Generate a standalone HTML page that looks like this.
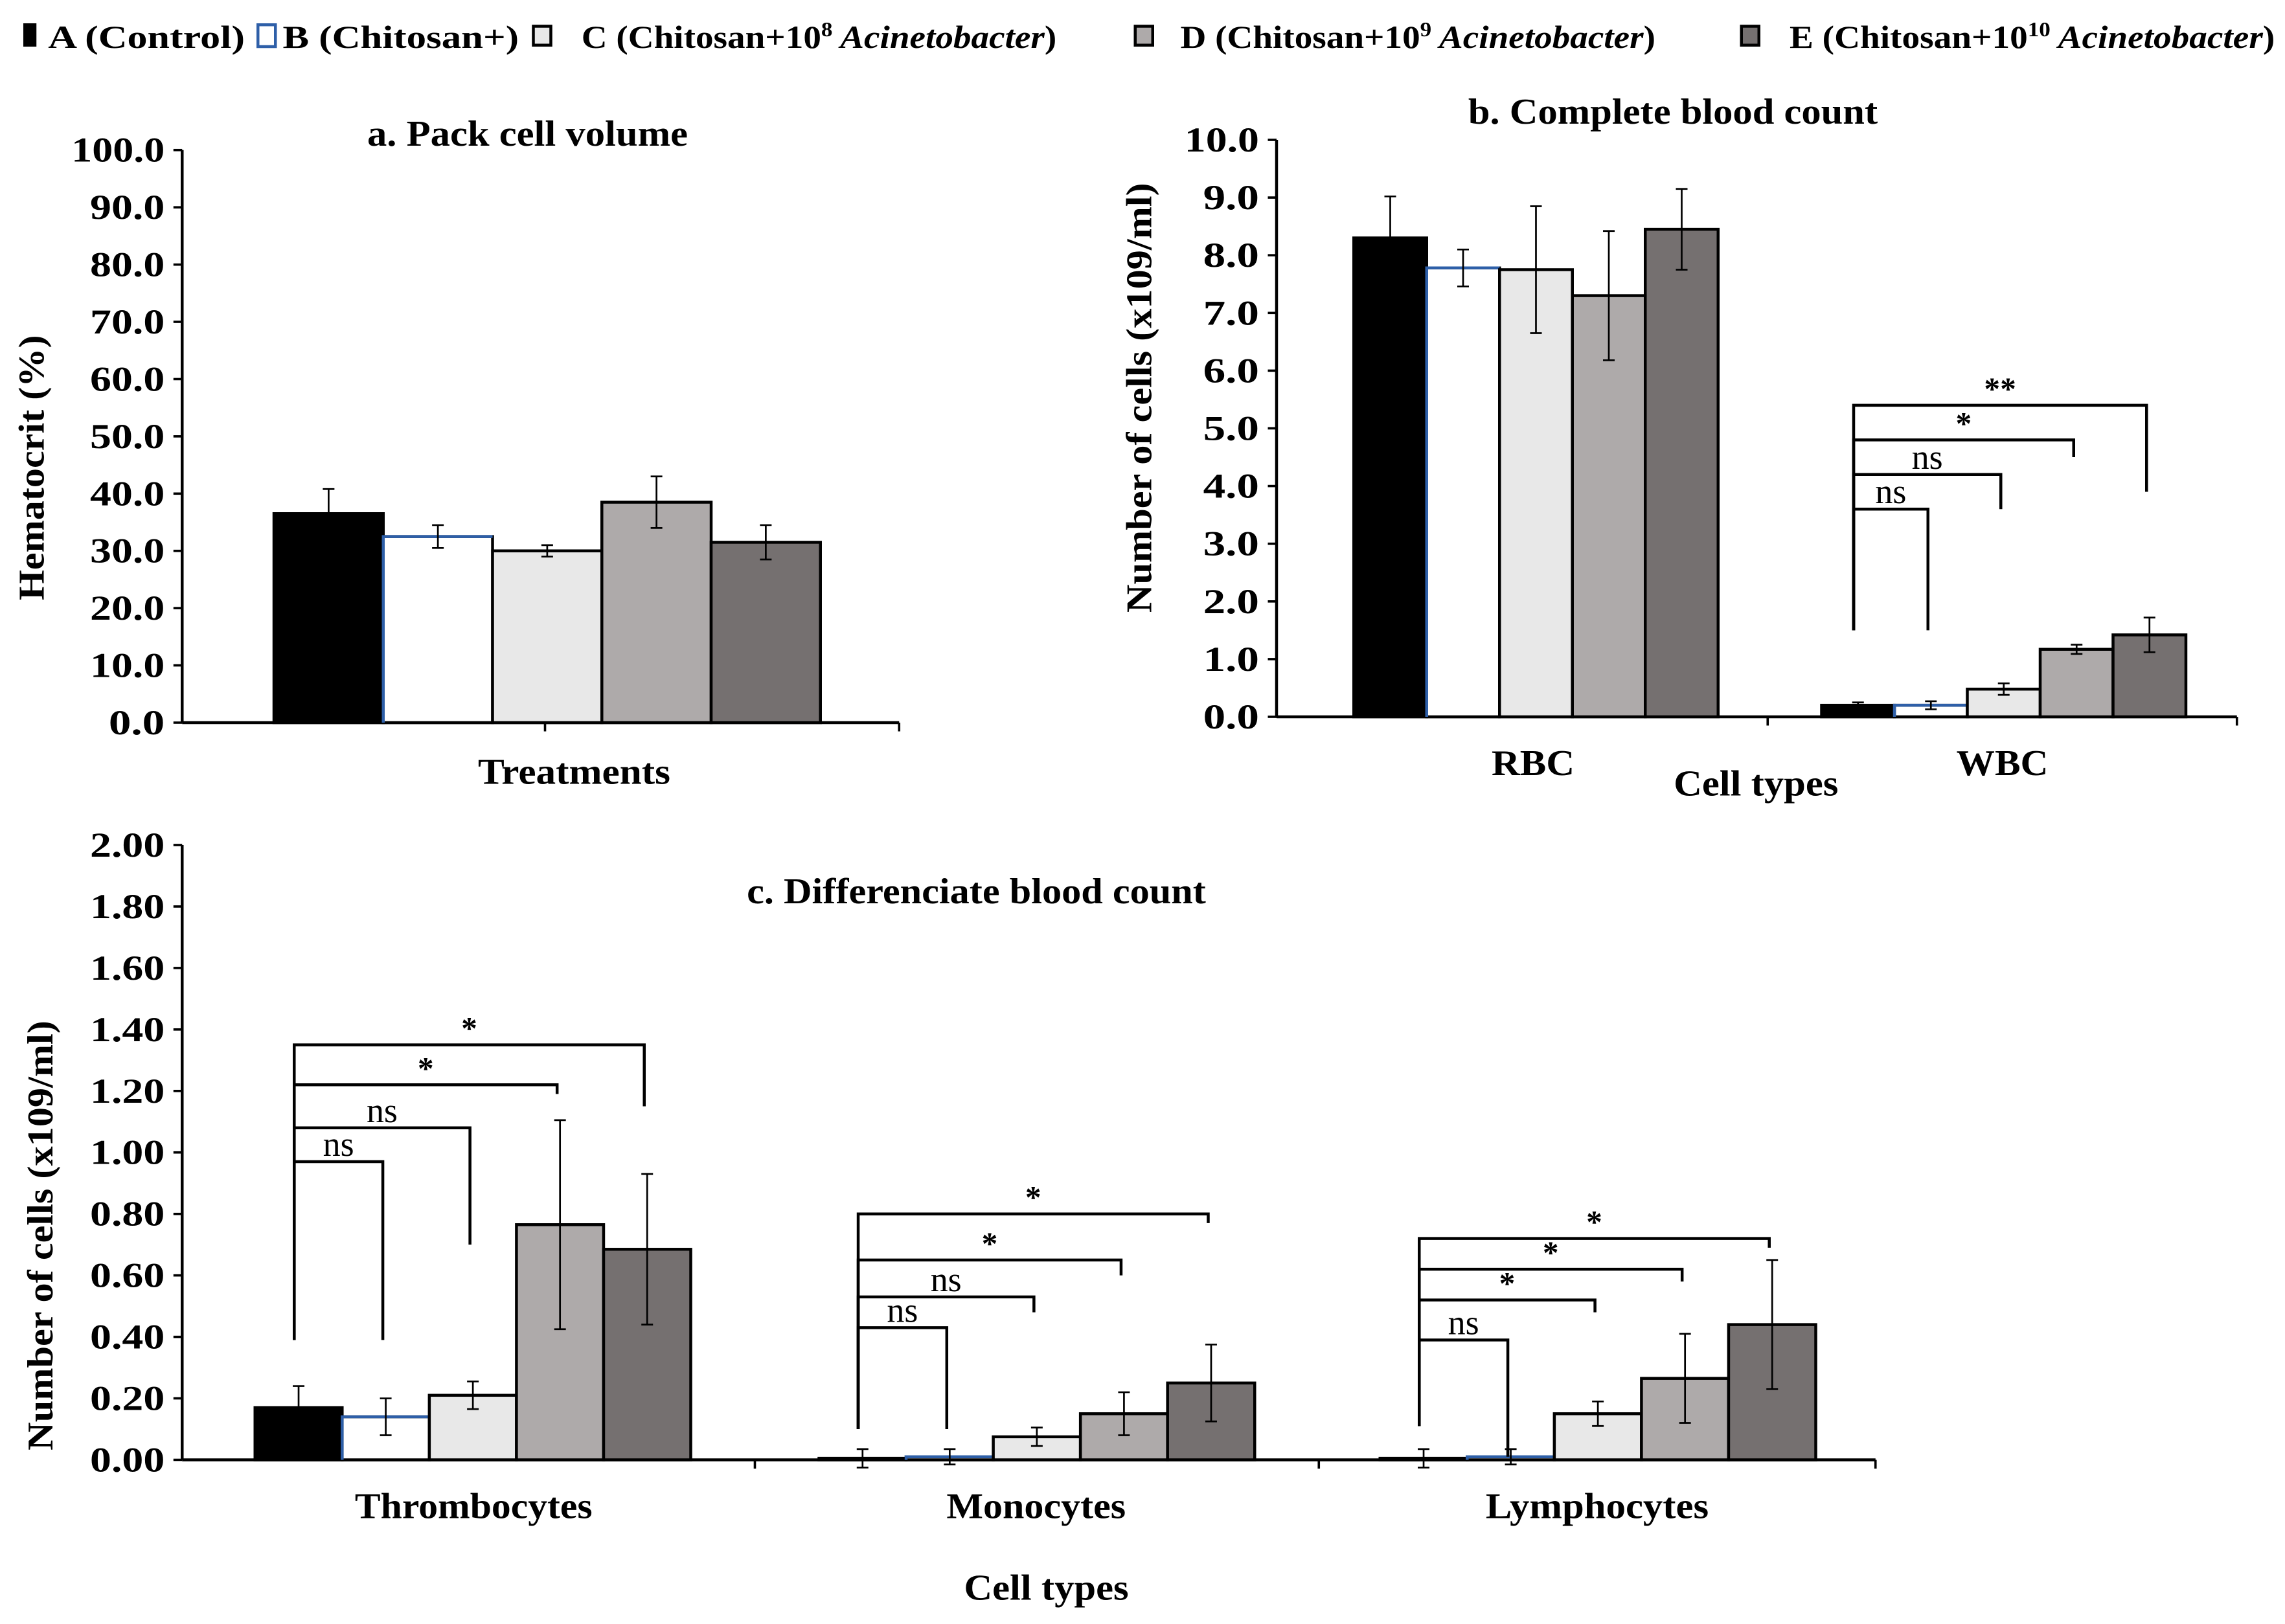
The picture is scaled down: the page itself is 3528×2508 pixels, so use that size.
<!DOCTYPE html>
<html><head><meta charset="utf-8"><style>
html,body{margin:0;padding:0;background:#fff;}
svg{display:block;font-family:"Liberation Serif",serif;font-weight:bold;}
</style></head><body>
<svg id="s" xmlns="http://www.w3.org/2000/svg" width="3528" height="2508" viewBox="0 0 1568 1114.67">
<rect x="0" y="0" width="1568" height="1115" fill="#fff"/>
<g id="legend" font-size="22">
  <g><rect x="16" y="16" width="9" height="16" fill="#000"/><text x="33" y="33" textLength="135" lengthAdjust="spacingAndGlyphs">A (Control)</text></g>
  <g><rect x="177" y="17" width="12" height="15" fill="#fff" stroke="#2e5fa8" stroke-width="2"/><text x="194" y="33" textLength="162" lengthAdjust="spacingAndGlyphs">B (Chitosan+)</text></g>
  <g><rect x="366" y="18" width="12" height="13" fill="#e8e8e8" stroke="#000" stroke-width="2"/><text x="399" y="33" textLength="326" lengthAdjust="spacingAndGlyphs">C (Chitosan+10<tspan font-size="14" dy="-8">8</tspan><tspan dy="8" font-style="italic"> Acinetobacter</tspan>)</text></g>
  <g><rect x="779" y="18" width="12" height="13" fill="#aeaaaa" stroke="#000" stroke-width="2"/><text x="810" y="33" textLength="326" lengthAdjust="spacingAndGlyphs">D (Chitosan+10<tspan font-size="14" dy="-8">9</tspan><tspan dy="8" font-style="italic"> Acinetobacter</tspan>)</text></g>
  <g><rect x="1195" y="18" width="12" height="13" fill="#757070" stroke="#000" stroke-width="2"/><text x="1228" y="33" textLength="333" lengthAdjust="spacingAndGlyphs">E (Chitosan+10<tspan font-size="14" dy="-8">10</tspan><tspan dy="8" font-style="italic"> Acinetobacter</tspan>)</text></g>
</g>
</svg>
<script>
// ---------- data ----------
const seriesNames = ["A","B","C","D","E"];
const pcvValues = [36.5, 32.5, 30.0, 38.5, 31.5];
const pcvErrors = [4.3, 2.0, 1.0, 4.5, 3.0];
const pcvTicks = [0,10,20,30,40,50,60,70,80,90,100];
const cbcCategories = ["RBC","WBC"];
const cbcA = [8.3, 0.2];
const cbcB = [7.78, 0.2];
const cbcC = [7.75, 0.48];
const cbcD = [7.3, 1.17];
const cbcE = [8.45, 1.42];
const cbcErrA = [0.72, 0.05];
const cbcErrB = [0.32, 0.07];
const cbcErrC = [1.1, 0.1];
const cbcErrD = [1.12, 0.08];
const cbcErrE = [0.7, 0.3];
const cbcTicks = [0,1,2,3,4,5,6,7,8,9,10];
const dbcCategories = ["Thrombocytes","Monocytes","Lymphocytes"];
const dbcA = [0.17, 0.005, 0.005];
const dbcB = [0.14, 0.01, 0.01];
const dbcC = [0.21, 0.075, 0.15];
const dbcD = [0.765, 0.15, 0.265];
const dbcE = [0.685, 0.25, 0.44];
const dbcErrA = [0.07, 0.03, 0.03];
const dbcErrB = [0.06, 0.025, 0.025];
const dbcErrC = [0.045, 0.03, 0.04];
const dbcErrD = [0.34, 0.07, 0.145];
const dbcErrE = [0.245, 0.125, 0.21];
const dbcTicks = [0,0.2,0.4,0.6,0.8,1.0,1.2,1.4,1.6,1.8,2.0];
// brackets: [category index, target series index, bracket height (value), right drop (value), label]
const cbcBrackets = [[1,1,3.6,1.5,"ns"],[1,2,4.2,3.6,"ns"],[1,3,4.8,4.5,"*"],[1,4,5.4,3.9,"**"]];
const dbcBrackets = [[0,1,0.97,0.39,"ns"],[0,2,1.08,0.70,"ns"],[0,3,1.22,1.19,"*"],[0,4,1.35,1.15,"*"],
  [1,1,0.43,0.10,"ns"],[1,2,0.53,0.48,"ns"],[1,3,0.65,0.60,"*"],[1,4,0.80,0.77,"*"],
  [2,1,0.39,0.01,"ns"],[2,2,0.52,0.48,"*"],[2,3,0.62,0.58,"*"],[2,4,0.72,0.69,"*"]];

const fills = ["#000000","#ffffff","#e8e8e8","#aeaaaa","#757070"];
const NS = "http://www.w3.org/2000/svg";
const svg = document.getElementById('s');
function mk(tag, attrs, parent){const e=document.createElementNS(NS,tag);for(const k in attrs)e.setAttribute(k,attrs[k]);(parent||svg).appendChild(e);return e;}

function panel(cfg){
  const g = mk('g',{});
  
  
  const y = v => cfg.y0 - (v - cfg.min)/(cfg.max-cfg.min)*(cfg.y0-cfg.y1);
  const ya = mk('line',{x1:cfg.x0,y1:cfg.y1,x2:cfg.x0,y2:cfg.y0,stroke:'#000','stroke-width':2},g);
  
  
  const xa = mk('line',{x1:cfg.x0,y1:cfg.y0,x2:cfg.xEnd,y2:cfg.y0,stroke:'#000','stroke-width':2},g);
  
  
  cfg.ticks.forEach(t=>{
    mk('line',{x1:cfg.x0-6,y1:y(t),x2:cfg.x0,y2:y(t),stroke:'#000','stroke-width':1.6},g);
    const s = t.toFixed(cfg.dec);
    const tl = mk('text',{x:cfg.x0-12,y:y(t)+8,'text-anchor':'end','font-size':24,textLength:s.length*12.8,lengthAdjust:'spacingAndGlyphs'},g);
    
    
    tl.textContent = s;
  });
  cfg.xTicks.forEach(xt=>mk('line',{x1:xt,y1:cfg.y0,x2:xt,y2:cfg.y0+6,stroke:'#000','stroke-width':1.6},g));
  const nCat = cfg.values[0].length;
  const bx = (c,s) => cfg.catStart[c] + s*cfg.bw;
  for(let c=0;c<nCat;c++){
    for(let s=0;s<5;s++){
      const v = cfg.values[s][c], e = cfg.errors[s][c];
      const x = bx(c,s);
      const r = mk('rect',{x:x,y:y(v),width:cfg.bw,height:cfg.y0-y(v),fill:fills[s],stroke:'#000','stroke-width':2},g);
      
      
      if(s===1){ mk('polyline',{points:`${x},${cfg.y0} ${x},${y(v)} ${x+cfg.bw},${y(v)}`,fill:'none',stroke:'#2e5fa8','stroke-width':2},g); }
      const cx = x+cfg.bw/2;
      const eb = mk('path',{d:`M${cx},${y(v-e)}V${y(v+e)}M${cx-4},${y(v-e)}h8M${cx-4},${y(v+e)}h8`,stroke:'#000','stroke-width':1.2,fill:'none'},g);
      
      
    }
  }
  (cfg.brackets||[]).forEach(b=>{
    const [c,s,h,drop,lab]=b;
    const xl = bx(c,0)+cfg.bw/2-3, xr = bx(c,s)+cfg.bw/2-2;
    const left = cfg.leftBottom[c];
    const p = mk('path',{d:`M${xl},${y(left)}V${y(h)}H${xr}V${y(drop)}`,fill:'none',stroke:'#000','stroke-width':2},g);
    
    
    const t = mk('text',{x:(xl+xr)/2,y:y(h)-4,'text-anchor':'middle','font-size':lab==='ns'?24:22,'font-weight':lab==='ns'?'normal':'bold'},g);
    
    
    t.textContent = lab;
  });
  cfg.catLabels.forEach(l=>{
    const t = mk('text',{x:l[1],y:l[2],'text-anchor':'middle','font-size':25,textLength:l[3],lengthAdjust:'spacingAndGlyphs'},g);
    
    
    t.textContent = l[0];
  });
  const tt = mk('text',{x:cfg.title[1],y:cfg.title[2],'text-anchor':'middle','font-size':25,textLength:cfg.title[3],lengthAdjust:'spacingAndGlyphs'},g);
  
  
  tt.textContent = cfg.title[0];
  const yt = mk('text',{x:0,y:0,'text-anchor':'middle','font-size':25,textLength:cfg.yTitle[3],lengthAdjust:'spacingAndGlyphs',transform:`translate(${cfg.yTitle[1]},${cfg.yTitle[2]}) rotate(-90)`},g);
  
  
  yt.textContent = cfg.yTitle[0];
  if(cfg.xTitle){
    const xt = mk('text',{x:cfg.xTitle[1],y:cfg.xTitle[2],'text-anchor':'middle','font-size':25,textLength:cfg.xTitle[3],lengthAdjust:'spacingAndGlyphs'},g);
    
    
    xt.textContent = cfg.xTitle[0];
  }
}

panel({name:'panel-a-pack-cell-volume',x0:125,xEnd:617,y0:496,y1:103,min:0,max:100,dec:1,ticks:pcvTicks,
  xTicks:[374,617],values:pcvValues.map(v=>[v]),errors:pcvErrors.map(v=>[v]),catStart:[188],bw:75,
  catLabels:[],title:["a. Pack cell volume",362,100,220],yTitle:["Hematocrit (%)",30,321,182],xTitle:["Treatments",394,538,132]});

panel({name:'panel-b-complete-blood-count',x0:876,xEnd:1535,y0:492,y1:96,min:0,max:10,dec:1,ticks:cbcTicks,
  xTicks:[1213,1535],values:[cbcA,cbcB,cbcC,cbcD,cbcE],errors:[cbcErrA,cbcErrB,cbcErrC,cbcErrD,cbcErrE],
  catStart:[929,1250],bw:50,brackets:cbcBrackets,leftBottom:[0,1.5],
  catLabels:[["RBC",1052,532,57],["WBC",1374,532,63]],title:["b. Complete blood count",1148,85,281],
  yTitle:["Number of cells (x109/ml)",790,273,295],xTitle:["Cell types",1205,546,113]});

panel({name:'panel-c-differential-blood-count',x0:125,xEnd:1287,y0:1002,y1:580,min:0,max:2,dec:2,ticks:dbcTicks,
  xTicks:[518,905,1287],values:[dbcA,dbcB,dbcC,dbcD,dbcE],errors:[dbcErrA,dbcErrB,dbcErrC,dbcErrD,dbcErrE],
  catStart:[175,562,947],bw:59.8,brackets:dbcBrackets,leftBottom:[0.39,0.1,0.11],
  catLabels:[["Thrombocytes",325,1042,163],["Monocytes",711,1042,123],["Lymphocytes",1096,1042,153]],
  title:["c. Differenciate blood count",670,620,315],yTitle:["Number of cells (x109/ml)",36,848,295],xTitle:["Cell types",718,1098,113]});
</script>
</body></html>
